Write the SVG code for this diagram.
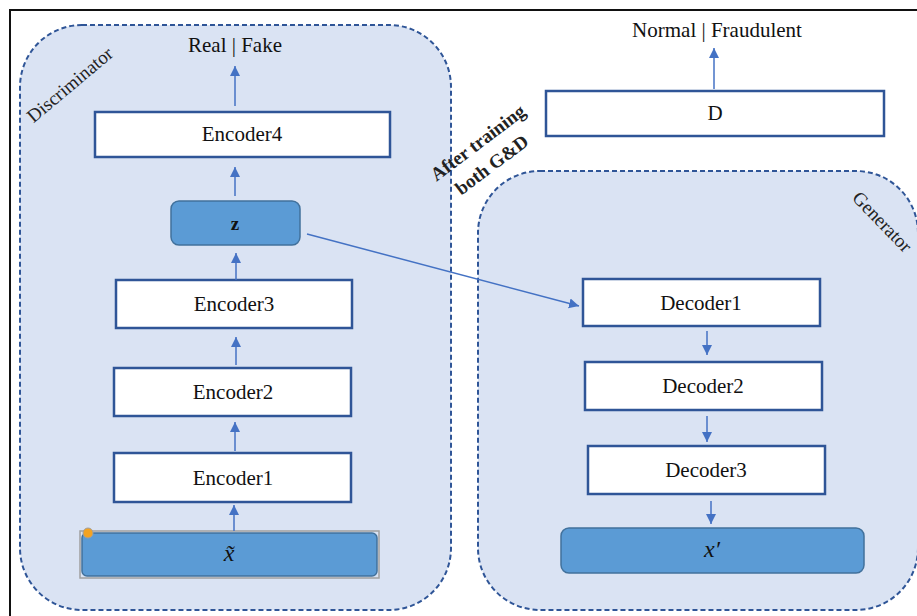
<svg xmlns="http://www.w3.org/2000/svg" width="917" height="616" viewBox="0 0 917 616">
<defs>
<marker id="ah" viewBox="0 0 10 10" refX="10" refY="5" markerWidth="10" markerHeight="11" markerUnits="userSpaceOnUse" orient="auto">
<path d="M0,0 L10,5 L0,10 Z" fill="#4472c4"/>
</marker>
</defs>
<style>
.cont{fill:#dae3f3;stroke:#2f5597;stroke-width:2;stroke-dasharray:5 3}
.box{fill:#ffffff;stroke:#2f5597;stroke-width:2.5}
.vec{fill:#5b9bd5;stroke:#41719c;stroke-width:1.5}
.t{font-family:"Liberation Serif","Times New Roman",serif;font-size:21px;fill:#111;text-anchor:middle}
.lbl{font-family:"Liberation Serif","Times New Roman",serif;font-size:19px;fill:#222;text-anchor:middle}
.b{font-weight:bold}
.m{font-style:italic;font-size:24px}
.c{stroke:#4472c4;stroke-width:1.5;fill:none;marker-end:url(#ah)}
</style>
<rect x="0" y="0" width="917" height="616" fill="#ffffff"/>
<rect x="10" y="10" width="930" height="640" fill="none" stroke="#111" stroke-width="2"/>

<g id="discriminator">
<rect class="cont" x="20" y="25" width="431" height="585" rx="62" ry="62"/>
<text class="lbl" transform="translate(70,85) rotate(-40)" y="6">Discriminator</text>
</g>
<g id="generator">
<rect class="cont" x="478" y="171" width="440" height="439" rx="62" ry="62"/>
<text class="lbl" transform="translate(882,222) rotate(46)" y="6">Generator</text>
</g>

<g id="after-training">
<text class="lbl b" transform="translate(485,154) rotate(-37)"><tspan x="1" y="-7">After training</tspan><tspan x="-1" y="19">both G&amp;D</tspan></text>
</g>

<g id="real-fake"><text class="t" x="235" y="52">Real | Fake</text></g>
<g id="encoder4"><rect class="box" x="95" y="112" width="295" height="45"/><text class="t" x="242" y="141">Encoder4</text></g>
<g id="z"><rect class="vec" x="171" y="201" width="129" height="44" rx="8" ry="8"/><text class="t b" x="235" y="230" style="font-size:19px">z</text></g>
<g id="encoder3"><rect class="box" x="116" y="280" width="236" height="48"/><text class="t" x="234" y="311">Encoder3</text></g>
<g id="encoder2"><rect class="box" x="114" y="368" width="237" height="48"/><text class="t" x="233" y="399">Encoder2</text></g>
<g id="encoder1"><rect class="box" x="114" y="453" width="237" height="49"/><text class="t" x="233" y="485">Encoder1</text></g>
<g id="x-tilde">
<rect x="80" y="531" width="299" height="47" fill="none" stroke="#a0a0a0" stroke-width="1.5"/>
<rect class="vec" x="82" y="533" width="295" height="43" rx="5" ry="5"/>
<text class="t m" x="229" y="561">x̃</text>
<circle cx="88" cy="533" r="5" fill="#f4a322" stroke="#a0a0a0" stroke-width="1"/>
</g>

<g id="normal-fraudulent"><text class="t" x="717" y="37">Normal | Fraudulent</text></g>
<g id="d"><rect class="box" x="546" y="91" width="338" height="45"/><text class="t" x="715" y="120">D</text></g>
<g id="decoder1"><rect class="box" x="583" y="279" width="237" height="47"/><text class="t" x="701" y="310">Decoder1</text></g>
<g id="decoder2"><rect class="box" x="585" y="362" width="237" height="48"/><text class="t" x="703" y="393">Decoder2</text></g>
<g id="decoder3"><rect class="box" x="588" y="446" width="237" height="48"/><text class="t" x="706" y="477">Decoder3</text></g>
<g id="x-prime"><rect class="vec" x="561" y="528" width="303" height="45" rx="8" ry="8"/><text class="t m" x="712" y="557">x′</text></g>

<g id="connectors">
<line class="c" x1="235" y1="106" x2="235" y2="66"/>
<line class="c" x1="235" y1="196" x2="235" y2="167"/>
<line class="c" x1="236" y1="280" x2="236" y2="253"/>
<line class="c" x1="236" y1="365" x2="236" y2="337"/>
<line class="c" x1="235" y1="451" x2="235" y2="422"/>
<line class="c" x1="234" y1="531" x2="234" y2="505"/>
<line class="c" x1="714" y1="89" x2="714" y2="48"/>
<line class="c" x1="307" y1="234" x2="579" y2="306"/>
<line class="c" x1="707" y1="331" x2="707" y2="355"/>
<line class="c" x1="707" y1="416" x2="707" y2="442"/>
<line class="c" x1="711" y1="501" x2="711" y2="524"/>
</g>
</svg>
